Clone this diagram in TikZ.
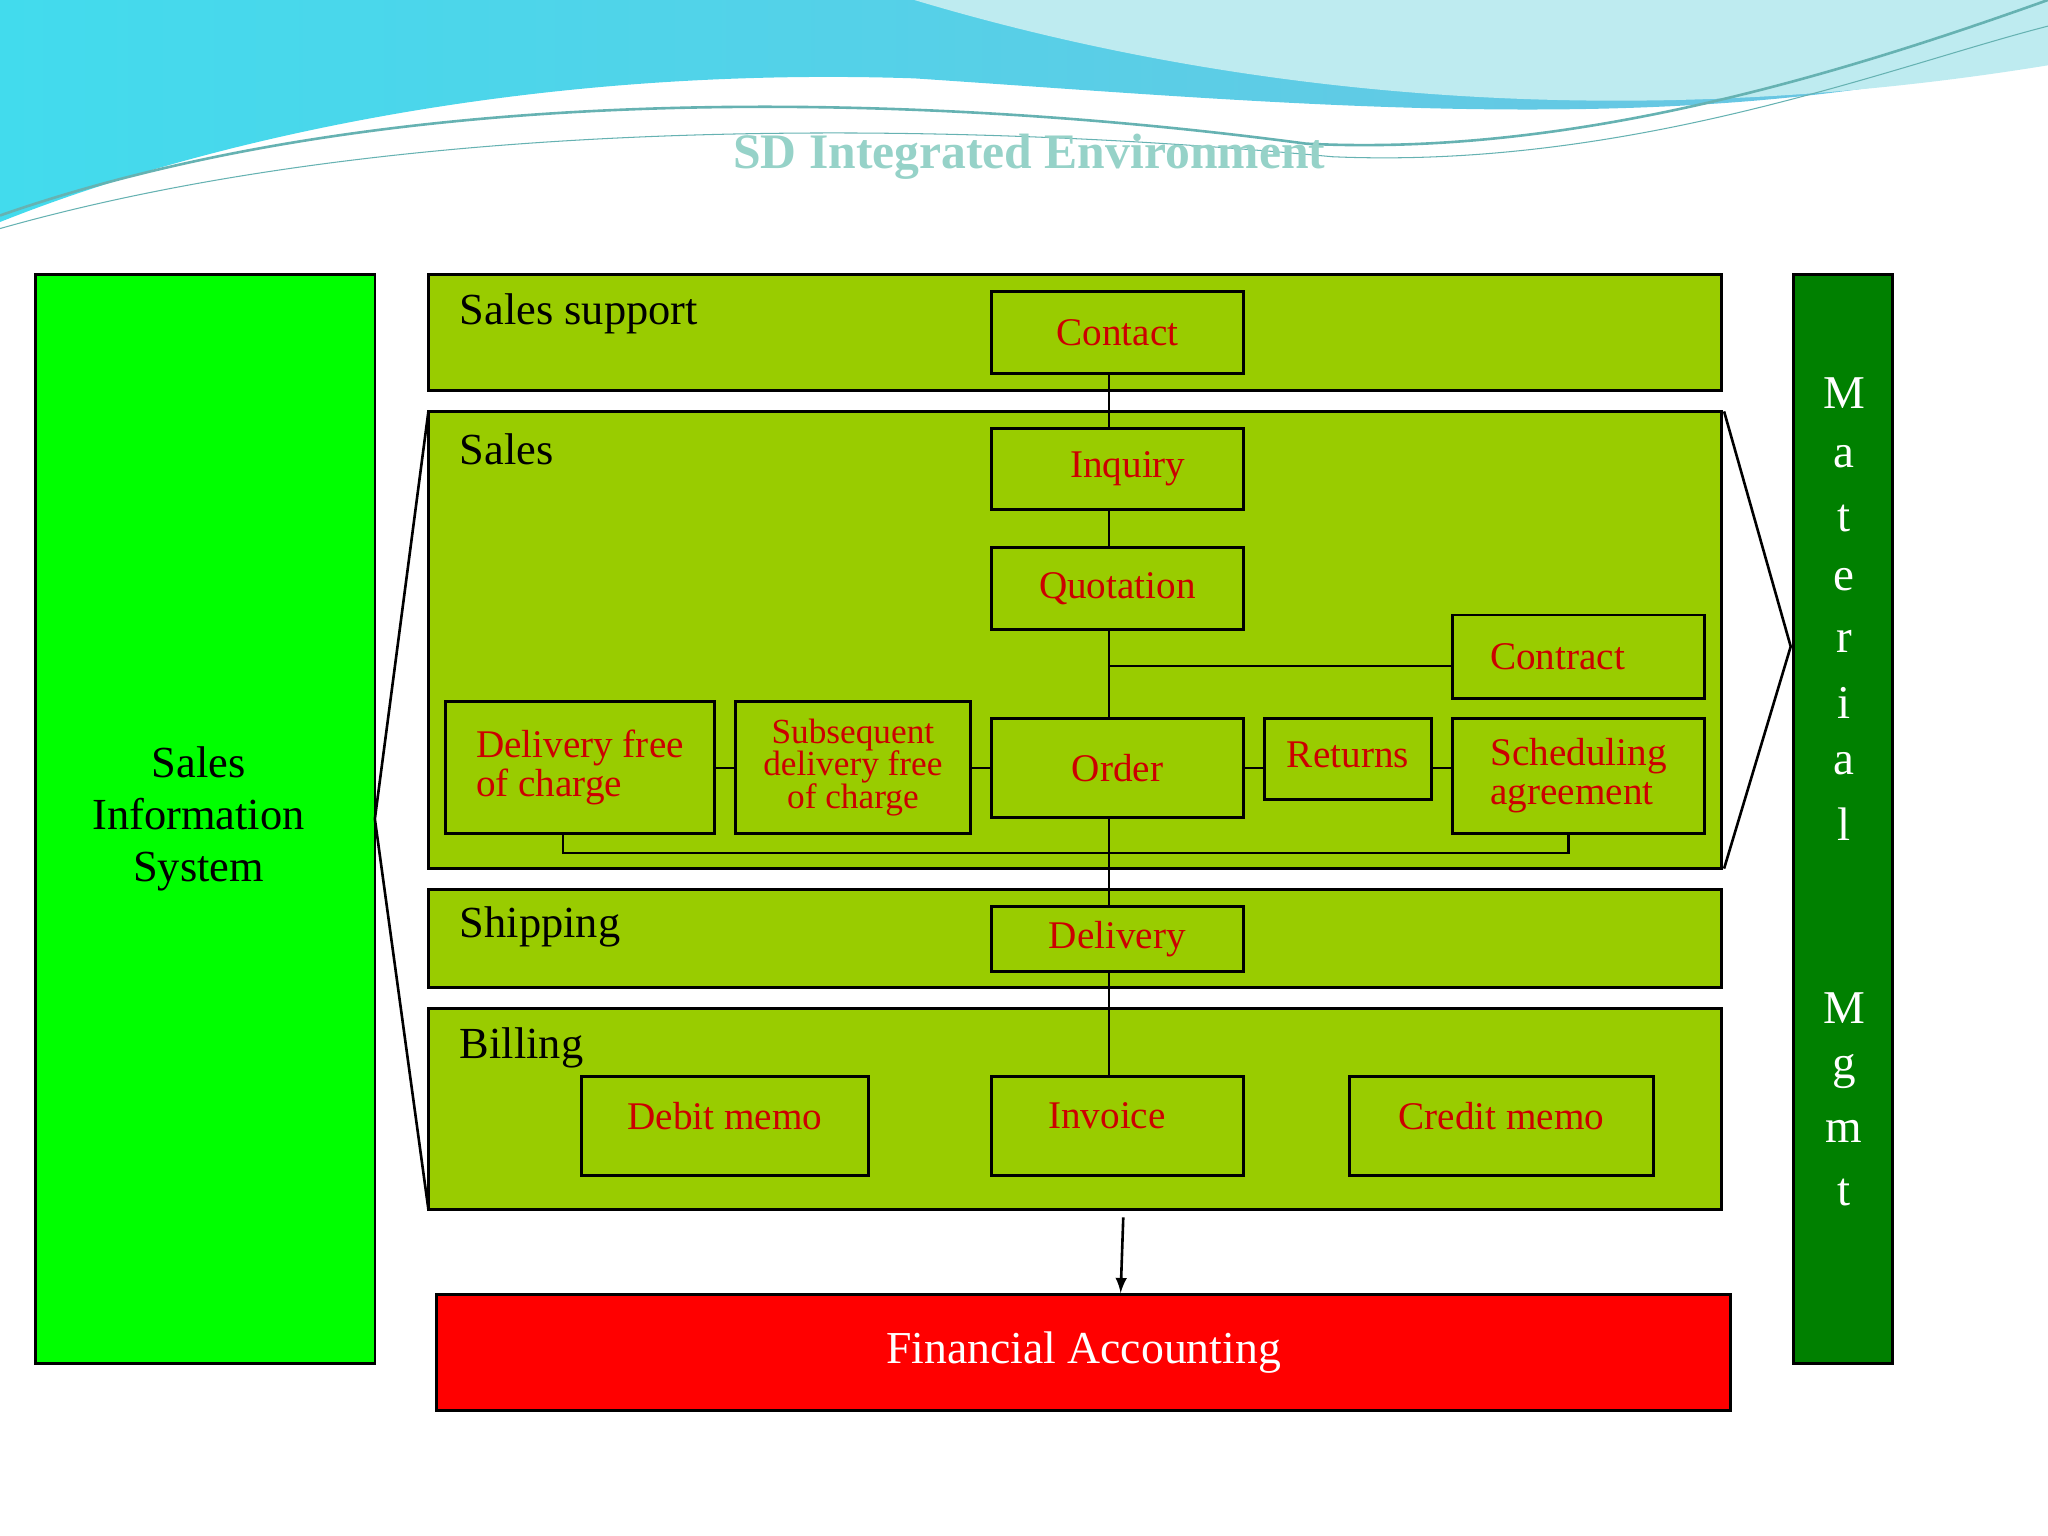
\documentclass[tikz,border=0pt]{standalone}
\usepackage{fontspec}
\setmainfont{Liberation Serif}
\definecolor{lg}{RGB}{153,204,0}
\definecolor{bg}{RGB}{0,255,0}
\definecolor{dg}{RGB}{0,128,0}
\definecolor{rt}{RGB}{204,0,0}
\definecolor{ttl}{RGB}{150,210,200}
\definecolor{wave}{RGB}{110,195,225}
\definecolor{wave2}{RGB}{190,235,240}
\begin{document}
\begin{tikzpicture}[x=0.5pt,y=-0.5pt,
  area/.style={draw=black,line width=1pt,fill=lg},
  box/.style={draw=black,line width=1pt,fill=lg},
  lbl/.style={text=rt,font=\fontsize{15}{15}\selectfont,align=center},
  hdr/.style={font=\fontsize{17}{17}\selectfont,anchor=west},
  ln/.style={line width=1pt}]
\useasboundingbox (0,0) rectangle (1568,1176);
% top waves
\shade[left color=wave!60!cyan, right color=wave] (0,0) -- (1568,0) -- (1568,40) .. controls (1300,110) and (1000,80) .. (700,60) .. controls (400,50) and (150,110) .. (0,170) -- cycle;
\fill[wave2] (700,0) .. controls (900,60) and (1200,110) .. (1568,50) -- (1568,0) -- cycle;
\draw[teal!60,line width=1pt] (0,165) .. controls (300,60) and (700,70) .. (1000,110) .. controls (1200,120) and (1400,60) .. (1568,0);
\draw[teal!60] (0,175) .. controls (300,90) and (700,90) .. (1020,120) .. controls (1250,130) and (1450,50) .. (1568,20);
\node[text=ttl,font=\fontsize{19}{19}\selectfont\bfseries] (title) at (788,120) {SD Integrated Environment};
% left
\draw[line width=1pt,fill=bg] (27,210) rectangle (287,1044);
\node[font=\fontsize{17}{20}\selectfont,align=center] (sis) at (152,627) {Sales\\Information\\System};
% right
\draw[line width=1pt,fill=dg] (1373,210) rectangle (1449,1044);
\foreach \c/\y in {M/301,a/350,t/397,e/444,r/491,i/538,a/585,l/631,M/772,g/820,m/866,t/913}
  \node[text=white,font=\fontsize{18}{18}\selectfont] at (1412,\y) {\c};
% areas
\draw[area] (328,210) rectangle (1318,299);
\draw[area] (328,315) rectangle (1318,665);
\draw[area] (328,681) rectangle (1318,756);
\draw[area] (328,772) rectangle (1318,926);
\node[hdr] at (345,240) {Sales support};
\node[hdr] at (345,344) {Sales};
\node[hdr] at (345,710) {Shipping};
\node[hdr] at (345,802) {Billing};
% fans
\coordinate (fl) at (287,627);
\draw[ln] (328,315) -- (fl) -- (328,926);
\coordinate (fr) at (1371,495);
\draw[ln] (1320,315) -- (fr) -- (1320,665);
% connectors behind
\draw[ln] (849,286) -- (849,824);
\draw[ln] (849,510) -- (1112,510);
\draw[ln] (431,638) -- (431,653) -- (1201,653) -- (1201,638);
\draw[ln] (547,588) -- (1112,588);
% boxes
\node[box,minimum width=96.5pt,minimum height=31.5pt,lbl] (contact) at (855.5,254.5) {\raisebox{-6pt}{Contact}};
\node[box,minimum width=96.5pt,minimum height=31pt,lbl] (inq) at (855.5,359) {\hspace{8pt}Inquiry};
\node[box,minimum width=96.5pt,minimum height=31.5pt,lbl] (quot) at (855.5,450.5) {Quotation};
\node[box,minimum width=96.5pt,minimum height=32pt,lbl] (contr) at (1208.5,503) {Contract\hspace{16pt}};
\node[box,minimum width=96.5pt,minimum height=38pt,lbl] (order) at (855.5,588) {\raisebox{-3pt}{Order}};
\node[box,minimum width=64pt,minimum height=31pt,lbl] (ret) at (1032,581) {\raisebox{3pt}{Returns}};
\node[box,minimum width=96.5pt,minimum height=44pt,lbl,align=left] (sched) at (1208.5,594) {Scheduling\\agreement};
\node[box,minimum width=103pt,minimum height=50.5pt,lbl,align=left] (dfc) at (444,587.5) {\raisebox{0pt}{Delivery free}\\of charge\hspace{20pt}};
\node[box,minimum width=90pt,minimum height=50.5pt,lbl,font=\fontsize{13.5}{12.5}\selectfont] (sdfc) at (653,587.5) {Subsequent\\delivery free\\of charge};
\node[box,minimum width=96.5pt,minimum height=25pt,lbl] (deliv) at (855.5,719) {\raisebox{-4pt}{Delivery}};
\node[box,minimum width=110pt,minimum height=38pt,lbl] (debit) at (555,862) {\raisebox{8pt}{Debit memo}};
\node[box,minimum width=96.5pt,minimum height=38pt,lbl] (inv) at (855.5,862) {\raisebox{8pt}{Invoice}\hspace{8pt}};
\node[box,minimum width=116.5pt,minimum height=38pt,lbl] (cred) at (1149.5,862) {\raisebox{8pt}{Credit memo}};
% financial
\node[draw=black,line width=1pt,fill=red,minimum width=495.5pt,minimum height=44.5pt,text=white,font=\fontsize{17.5}{17.5}\selectfont] (fa) at (829.5,1035.5) {\raisebox{-3pt}{Financial Accounting}};
\coordinate (as) at (860,932);
\draw[ln,-latex] (as) -- (fa.north -| 858,0);
\end{tikzpicture}
\end{document}
